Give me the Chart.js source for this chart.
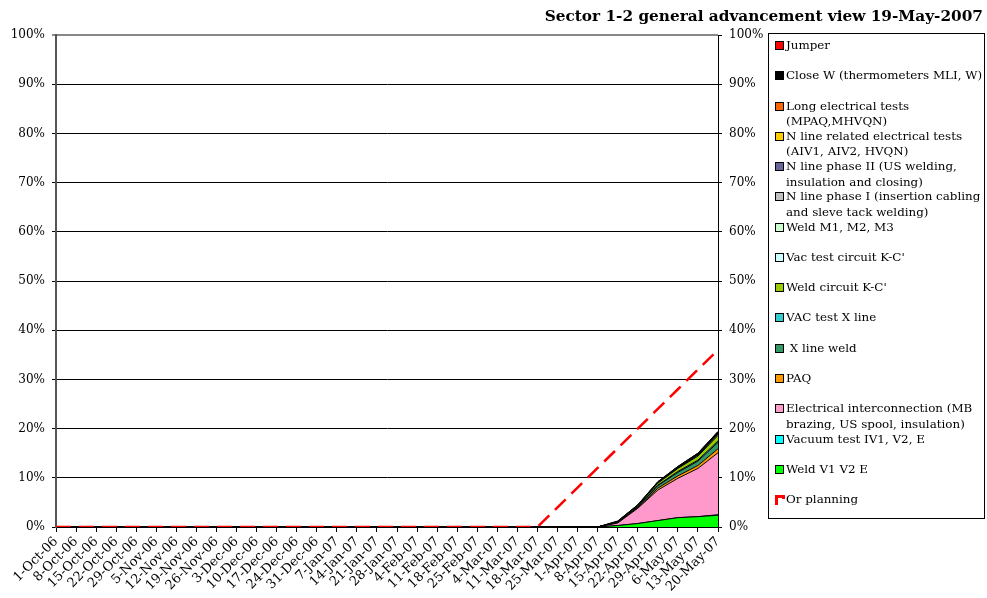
<!DOCTYPE html>
<html>
<head>
<meta charset="utf-8">
<script src="https://cdn.jsdelivr.net/npm/chart.js@4"></script>
<style>
  body { margin: 0; background: #fff; width: 987px; height: 598px; overflow: hidden; position: relative; font-family: 'DejaVu Serif', serif; }
  #wrap { position: absolute; left: 0; top: 0; width: 987px; height: 598px; }
  #title { position: absolute; right: 4px; top: 7px; font-weight: bold; font-size: 15.3px; color: #000; white-space: nowrap; }
  #legend { position: absolute; left: 768px; top: 33px; width: 217px; height: 486px; border: 1px solid #000; box-sizing: border-box; }
  .item { position: absolute; left: 6px; font-size: 11.9px; line-height: 15.5px; color: #000; white-space: pre; }
  .item .box { position: absolute; left: 0; top: 3px; width: 9px; height: 9px; box-sizing: border-box; border: 1px solid #000; }
  .item .txt { margin-left: 11px; display: block; }
  .item .plan { position: absolute; left: 0; top: 3px; width: 10px; height: 10px; box-sizing: border-box; border-top: 3px solid #f00; border-left: 3px solid #f00; }
  .item .plan2 { position: absolute; left: 7px; top: 3px; width: 3px; height: 4px; background: #f00; }
</style>
</head>
<body>
<div id="wrap"><canvas id="chart" width="987" height="598"></canvas></div>
<div id="title">Sector 1-2 general advancement view 19-May-2007</div>
<div id="legend"></div>
<script>
// semaines (axe des catégories)
const weeks = ['1-Oct-06','8-Oct-06','15-Oct-06','22-Oct-06','29-Oct-06','5-Nov-06','12-Nov-06','19-Nov-06','26-Nov-06',
  '3-Dec-06','10-Dec-06','17-Dec-06','24-Dec-06','31-Dec-06','7-Jan-07','14-Jan-07','21-Jan-07','28-Jan-07',
  '4-Feb-07','11-Feb-07','18-Feb-07','25-Feb-07','4-Mar-07','11-Mar-07','18-Mar-07','25-Mar-07',
  '1-Apr-07','8-Apr-07','15-Apr-07','22-Apr-07','29-Apr-07','6-May-07','13-May-07','20-May-07'];

// avancement par activité (%), empilé du bas vers le haut
const weldV1V2E    = [0,0,0,0,0,0,0,0,0,0,0,0,0,0,0,0,0,0,0,0,0,0,0,0,0,0,0,0,0.3,0.7,1.3,1.9,2.1,2.4];
const vacTestIV1   = [0,0,0,0,0,0,0,0,0,0,0,0,0,0,0,0,0,0,0,0,0,0,0,0,0,0,0,0,0,0,0,0,0,0.1];
const elecInter    = [0,0,0,0,0,0,0,0,0,0,0,0,0,0,0,0,0,0,0,0,0,0,0,0,0,0,0,0,0.5,3.1,6.2,8.0,9.8,12.6];
const paq          = [0,0,0,0,0,0,0,0,0,0,0,0,0,0,0,0,0,0,0,0,0,0,0,0,0,0,0,0,0.1,0.1,0.4,0.5,0.6,0.8];
const xLineWeld    = [0,0,0,0,0,0,0,0,0,0,0,0,0,0,0,0,0,0,0,0,0,0,0,0,0,0,0,0,0,0.1,0.5,0.7,0.9,1.3];
const vacTestXLine = [0,0,0,0,0,0,0,0,0,0,0,0,0,0,0,0,0,0,0,0,0,0,0,0,0,0,0,0,0,0.1,0.1,0.2,0.2,0.3];
const weldKC       = [0,0,0,0,0,0,0,0,0,0,0,0,0,0,0,0,0,0,0,0,0,0,0,0,0,0,0,0,0.1,0.2,0.4,0.6,0.8,1.1];
const vacTestKC    = [0,0,0,0,0,0,0,0,0,0,0,0,0,0,0,0,0,0,0,0,0,0,0,0,0,0,0,0,0,0,0.1,0.1,0.2,0.2];
const weldM123     = [0,0,0,0,0,0,0,0,0,0,0,0,0,0,0,0,0,0,0,0,0,0,0,0,0,0,0,0,0,0,0,0,0.1,0.1];
const nPhaseI      = [0,0,0,0,0,0,0,0,0,0,0,0,0,0,0,0,0,0,0,0,0,0,0,0,0,0,0,0,0,0,0,0,0,0];
const nPhaseII     = [0,0,0,0,0,0,0,0,0,0,0,0,0,0,0,0,0,0,0,0,0,0,0,0,0,0,0,0,0,0,0,0,0,0];
const nElecTests   = [0,0,0,0,0,0,0,0,0,0,0,0,0,0,0,0,0,0,0,0,0,0,0,0,0,0,0,0,0,0,0,0,0,0];
const longElec     = [0,0,0,0,0,0,0,0,0,0,0,0,0,0,0,0,0,0,0,0,0,0,0,0,0,0,0,0,0,0,0,0,0,0];
const closeW       = [0,0,0,0,0,0,0,0,0,0,0,0,0,0,0,0,0,0,0,0,0,0,0,0,0,0,0,0,0.2,0.2,0.2,0.3,0.3,0.5];
const jumper       = [0,0,0,0,0,0,0,0,0,0,0,0,0,0,0,0,0,0,0,0,0,0,0,0,0,0,0,0,0,0,0,0,0,0];

// planning
const planning     = [0,0,0,0,0,0,0,0,0,0,0,0,0,0,0,0,0,0,0,0,0,0,0,0,0,4,8,12,16,20,24,28,32,36];

const pctTicks = [0,10,20,30,40,50,60,70,80,90,100];

const series = [
  { label: 'Weld V1 V2 E', data: weldV1V2E, color: '#00ff00' },
  { label: 'Vacuum test IV1, V2, E', data: vacTestIV1, color: '#00ffff' },
  { label: 'Electrical interconnection (MB\nbrazing, US spool, insulation)', data: elecInter, color: '#ff99cc' },
  { label: 'PAQ', data: paq, color: '#ff9900' },
  { label: ' X line weld', data: xLineWeld, color: '#339966' },
  { label: 'VAC test X line', data: vacTestXLine, color: '#33cccc' },
  { label: "Weld circuit K-C'", data: weldKC, color: '#99cc00' },
  { label: "Vac test circuit K-C'", data: vacTestKC, color: '#ccffff' },
  { label: 'Weld M1, M2, M3', data: weldM123, color: '#ccffcc' },
  { label: 'N line phase I (insertion cabling\nand sleve tack welding)', data: nPhaseI, color: '#c0c0c0' },
  { label: 'N line phase II (US welding,\ninsulation and closing)', data: nPhaseII, color: '#666699' },
  { label: 'N line related electrical tests\n(AIV1, AIV2, HVQN)', data: nElecTests, color: '#ffcc00' },
  { label: 'Long electrical tests\n(MPAQ,MHVQN)', data: longElec, color: '#ff6600' },
  { label: 'Close W (thermometers MLI, W)', data: closeW, color: '#000000' },
  { label: 'Jumper', data: jumper, color: '#ff0000' }
];

const font = { family: "'DejaVu Serif', serif", size: 12 };
const xFont = { family: "'DejaVu Serif', serif", size: 13 };

const datasets = series.map((s, i) => ({
  label: s.label,
  data: s.data,
  backgroundColor: s.color,
  borderColor: '#000',
  borderWidth: 1,
  fill: i === 0 ? 'origin' : '-1',
  pointRadius: 0,
  tension: 0,
  yAxisID: 'y'
}));

datasets.push({
  label: 'Or planning',
  data: planning,
  borderColor: '#ff0000',
  borderWidth: 2.5,
  borderDash: [15, 8],
  fill: false,
  pointRadius: 0,
  tension: 0,
  yAxisID: 'y2',
  order: -1
});

new Chart(document.getElementById('chart'), {
  type: 'line',
  data: { labels: weeks, datasets: datasets },
  options: {
    responsive: false,
    devicePixelRatio: 1,
    animation: false,
    layout: { padding: { top: 35, right: 219, bottom: 0, left: 0 } },
    plugins: { legend: { display: false }, tooltip: { enabled: false } },
    scales: {
      x: {
        offset: false,
        grid: { drawOnChartArea: false, drawTicks: true, tickLength: 5, color: '#000' },
        border: { color: '#000', width: 1 },
        ticks: { autoSkip: false, maxRotation: 45, minRotation: 45, color: '#000', font: xFont, padding: 2 },
        afterFit: s => { s.height = 71; }
      },
      y: {
        stacked: true,
        min: 0, max: 100,
        afterBuildTicks: s => { s.ticks = pctTicks.map(v => ({ value: v })); },
        grid: {
          color: c => c.tick && c.tick.value === 100 ? '#888' : '#000',
          lineWidth: c => c.tick && c.tick.value === 100 ? 2 : 1,
          tickLength: 4
        },
        border: { color: '#555', width: 2 },
        ticks: { color: '#000', font: font, padding: 7, callback: v => v + '%' },
        afterFit: s => { s.width = 56; }
      },
      y2: {
        position: 'right',
        min: 0, max: 100,
        afterBuildTicks: s => { s.ticks = pctTicks.map(v => ({ value: v })); },
        grid: { drawOnChartArea: false, color: '#000', tickLength: 4 },
        border: { color: '#000', width: 1 },
        ticks: { color: '#000', font: font, padding: 7, callback: v => v + '%' },
        afterFit: s => { s.width = 50; }
      }
    }
  }
});

// légende (ordre inverse de l'empilement, puis le planning)
const legend = document.getElementById('legend');
const legendItems = series.slice().reverse().map(s => ({ label: s.label, color: s.color }));
legendItems.push({ label: 'Or planning', plan: true });
legendItems.forEach((it, i) => {
  const d = document.createElement('div');
  d.className = 'item';
  d.style.top = (12 + i * 30.27 - 8) + 'px';
  if (it.plan) {
    d.innerHTML = '<span class="plan"></span><span class="plan2"></span>';
  } else {
    d.innerHTML = '<span class="box" style="background:' + it.color + '"></span>';
  }
  const t = document.createElement('span');
  t.className = 'txt';
  t.textContent = it.label;
  d.appendChild(t);
  legend.appendChild(d);
});
</script>
</body>
</html>
